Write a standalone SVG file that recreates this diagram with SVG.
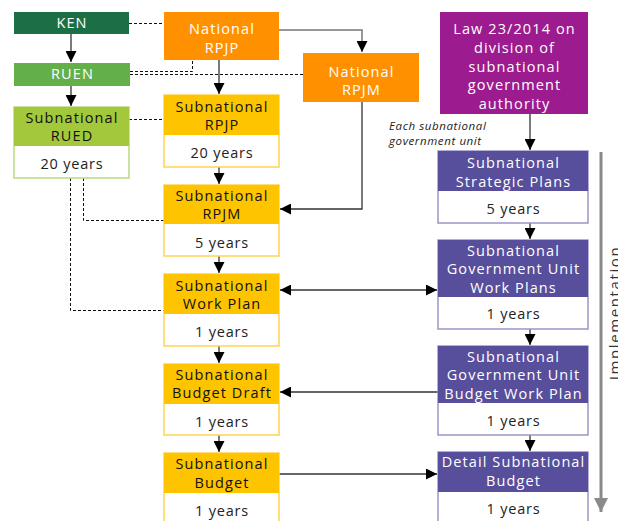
<svg xmlns="http://www.w3.org/2000/svg" width="618" height="521" viewBox="0 0 618 521">
  <style>
    text { font-family: "Open Sans", "Liberation Sans", sans-serif; font-size: 14.5px; letter-spacing: 1.1px; text-anchor: middle; dominant-baseline: central; }
    .w { fill: #ffffff; }
    .k { fill: #111111; }
    .yr { fill: #222222; letter-spacing: 0.8px; }
    .note { font-size: 11.5px; letter-spacing: 0.6px; font-style: italic; text-anchor: start; fill: #222222; }
    .impl { fill: #333333; font-size: 15px; letter-spacing: 1.6px; dominant-baseline: alphabetic; }
    .line { fill: none; stroke: #333333; stroke-width: 1.3; }
    .gline { fill: none; stroke: #777777; stroke-width: 1.5; }
    .dot { fill: none; stroke: #111111; stroke-width: 1; stroke-dasharray: 3 2; }
    .body { fill: #ffffff; stroke-width: 1.5; }
  </style>
  <defs>
    <marker id="ah" viewBox="0 0 10 10" refX="10" refY="5" markerWidth="11" markerHeight="11" markerUnits="userSpaceOnUse" orient="auto-start-reverse">
      <path d="M0,0 L10,5 L0,10 z" fill="#000000"/>
    </marker>
    <marker id="ahg" viewBox="0 0 10 10" refX="10" refY="5" markerWidth="14" markerHeight="16" markerUnits="userSpaceOnUse" orient="auto">
      <path d="M0,0 L10,5 L0,10 z" fill="#8a8a8a"/>
    </marker>
  </defs>

  <!-- connectors -->
  <g id="connectors">
    <!-- national chain -->
    <line class="line" x1="71" y1="34" x2="71" y2="62" marker-end="url(#ah)"/>
    <line class="line" x1="71" y1="86" x2="71" y2="106" marker-end="url(#ah)"/>
    <line class="line" x1="219" y1="60" x2="219" y2="94" marker-end="url(#ah)"/>
    <polyline class="gline" points="279,30 362,30 362,52" marker-end="url(#ah)"/>
    <polyline class="line" points="362,102 362,209 280,209" marker-end="url(#ah)"/>
    <!-- subnational chain -->
    <line class="line" x1="219" y1="167" x2="219" y2="184" marker-end="url(#ah)"/>
    <line class="line" x1="219" y1="256" x2="219" y2="273" marker-end="url(#ah)"/>
    <line class="line" x1="219" y1="346" x2="219" y2="363" marker-end="url(#ah)"/>
    <line class="line" x1="219" y1="435" x2="219" y2="452" marker-end="url(#ah)"/>
    <!-- government unit chain -->
    <line class="line" x1="530" y1="114" x2="530" y2="150" marker-end="url(#ah)"/>
    <line class="line" x1="530" y1="223" x2="530" y2="239" marker-end="url(#ah)"/>
    <line class="line" x1="530" y1="329" x2="530" y2="345" marker-end="url(#ah)"/>
    <line class="line" x1="530" y1="435" x2="530" y2="451" marker-end="url(#ah)"/>
    <!-- cross links -->
    <line class="line" x1="280" y1="290" x2="437" y2="290" marker-start="url(#ah)" marker-end="url(#ah)"/>
    <line class="line" x1="438" y1="392" x2="280" y2="392" marker-end="url(#ah)"/>
    <line class="line" x1="279" y1="474" x2="437" y2="474" marker-end="url(#ah)"/>
    <!-- reference links -->
    <line class="dot" x1="129" y1="23.5" x2="164" y2="23.5"/>
    <polyline class="dot" points="130,71.5 192.5,71.5 192.5,60"/>
    <line class="dot" x1="130" y1="74.5" x2="303" y2="74.5"/>
    <line class="dot" x1="129" y1="119.5" x2="164" y2="119.5"/>
    <polyline class="dot" points="83.5,178 83.5,220.5 164,220.5"/>
    <polyline class="dot" points="70.5,178 70.5,310.5 164,310.5"/>
    <!-- implementation timeline -->
    <line x1="601" y1="152" x2="601" y2="512" stroke="#8a8a8a" stroke-width="3" marker-end="url(#ahg)"/>
  </g>

  <g id="ken">
    <rect x="14" y="12" width="115" height="22" fill="#1b6e46"/>
    <text class="w" x="72" y="22">KEN</text>
  </g>
  <g id="ruen">
    <rect x="14" y="63" width="116" height="23" fill="#63b04b"/>
    <text class="w" x="72.5" y="73">RUEN</text>
  </g>
  <g id="rued">
    <rect class="body" x="14" y="107" width="115" height="71" stroke="#bcd983"/>
    <rect x="14" y="107" width="115" height="39" fill="#a3c83b"/>
    <text class="k" x="72" y="117">Subnational</text>
    <text class="k" x="72" y="135">RUED</text>
    <text class="yr" x="72" y="163">20 years</text>
  </g>

  <g id="national-rpjp">
    <rect x="164" y="12" width="115" height="48" fill="#ff9100"/>
    <text class="w" x="222" y="28">National</text>
    <text class="w" x="222" y="47">RPJP</text>
  </g>
  <g id="national-rpjm">
    <rect x="303" y="53" width="116" height="49" fill="#ff9100"/>
    <text class="w" x="361.5" y="71">National</text>
    <text class="w" x="361.5" y="89">RPJM</text>
  </g>

  <g id="sub-rpjp">
    <rect class="body" x="164" y="95" width="115" height="72" stroke="#ffd451"/>
    <rect x="164" y="95" width="115" height="40" fill="#ffc400"/>
    <text class="k" x="222" y="106">Subnational</text>
    <text class="k" x="222" y="124">RPJP</text>
    <text class="yr" x="222" y="152">20 years</text>
  </g>
  <g id="sub-rpjm">
    <rect class="body" x="164" y="185" width="115" height="71" stroke="#ffd451"/>
    <rect x="164" y="185" width="115" height="39" fill="#ffc400"/>
    <text class="k" x="222" y="195">Subnational</text>
    <text class="k" x="222" y="213">RPJM</text>
    <text class="yr" x="222" y="242">5 years</text>
  </g>
  <g id="sub-work-plan">
    <rect class="body" x="164" y="274" width="115" height="72" stroke="#ffd451"/>
    <rect x="164" y="274" width="115" height="40" fill="#ffc400"/>
    <text class="k" x="222" y="285">Subnational</text>
    <text class="k" x="222" y="303">Work Plan</text>
    <text class="yr" x="222" y="331">1 years</text>
  </g>
  <g id="sub-budget-draft">
    <rect class="body" x="164" y="364" width="115" height="71" stroke="#ffd451"/>
    <rect x="164" y="364" width="115" height="40" fill="#ffc400"/>
    <text class="k" x="222" y="374">Subnational</text>
    <text class="k" x="222" y="392">Budget Draft</text>
    <text class="yr" x="222" y="421">1 years</text>
  </g>
  <g id="sub-budget">
    <rect class="body" x="164" y="453" width="115" height="75" stroke="#ffd451"/>
    <rect x="164" y="453" width="115" height="40" fill="#ffc400"/>
    <text class="k" x="222" y="463">Subnational</text>
    <text class="k" x="222" y="482">Budget</text>
    <text class="yr" x="222" y="510">1 years</text>
  </g>

  <g id="law">
    <rect x="440" y="12" width="148" height="102" fill="#9c1b8f"/>
    <text class="w" x="514.5" y="28">Law 23/2014 on</text>
    <text class="w" x="514.5" y="47">division of</text>
    <text class="w" x="514.5" y="66">subnational</text>
    <text class="w" x="514.5" y="84">government</text>
    <text class="w" x="514.5" y="103">authority</text>
  </g>
  <g id="note">
    <text class="note" x="389" y="125.5">Each subnational</text>
    <text class="note" x="389" y="140.5">government unit</text>
  </g>

  <g id="strategic-plans">
    <rect class="body" x="438" y="151" width="150" height="72" stroke="#9d95c9"/>
    <rect x="438" y="151" width="150" height="40" fill="#574e9c"/>
    <text class="w" x="513.5" y="162">Subnational</text>
    <text class="w" x="513.5" y="181">Strategic Plans</text>
    <text class="yr" x="513.5" y="208">5 years</text>
  </g>
  <g id="unit-work-plans">
    <rect class="body" x="438" y="240" width="150" height="89" stroke="#9d95c9"/>
    <rect x="438" y="240" width="150" height="57" fill="#574e9c"/>
    <text class="w" x="513.5" y="250">Subnational</text>
    <text class="w" x="513.5" y="268">Government Unit</text>
    <text class="w" x="513.5" y="287">Work Plans</text>
    <text class="yr" x="513.5" y="313">1 years</text>
  </g>
  <g id="unit-budget-work-plan">
    <rect class="body" x="438" y="346" width="150" height="89" stroke="#9d95c9"/>
    <rect x="438" y="346" width="150" height="57" fill="#574e9c"/>
    <text class="w" x="513.5" y="356">Subnational</text>
    <text class="w" x="513.5" y="374">Government Unit</text>
    <text class="w" x="513.5" y="393">Budget Work Plan</text>
    <text class="yr" x="513.5" y="420">1 years</text>
  </g>
  <g id="detail-budget">
    <rect class="body" x="438" y="452" width="150" height="76" stroke="#9d95c9"/>
    <rect x="438" y="452" width="150" height="40" fill="#574e9c"/>
    <text class="w" x="513.5" y="461">Detail Subnational</text>
    <text class="w" x="513.5" y="480">Budget</text>
    <text class="yr" x="513.5" y="508">1 years</text>
  </g>

  <g id="implementation-label">
    <text class="impl" transform="translate(620,313) rotate(-90)">Implementation</text>
  </g>
</svg>
